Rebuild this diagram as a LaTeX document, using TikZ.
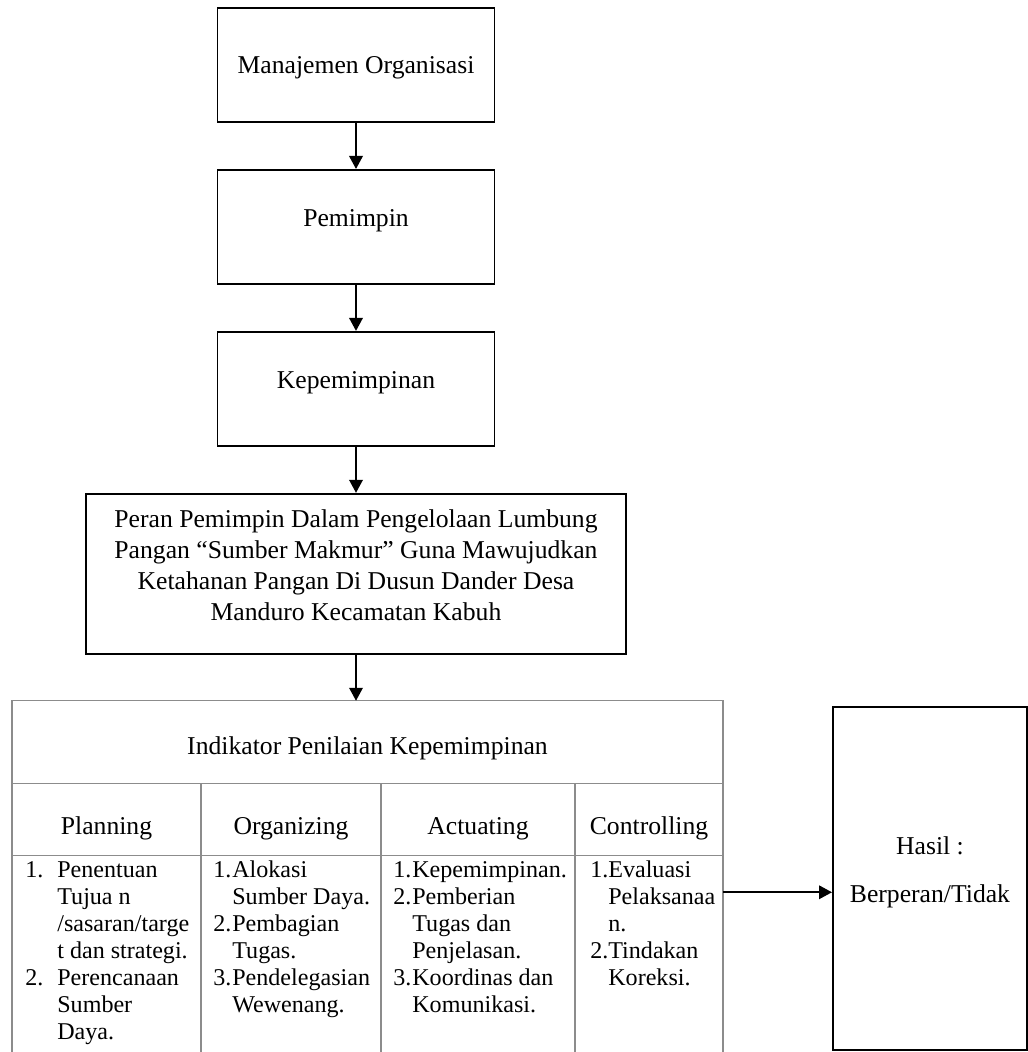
\documentclass[tikz,border=0pt]{standalone}
\usepackage{fontspec}
\setmainfont{Liberation Serif}
\usepackage{tikz}
\usetikzlibrary{arrows.meta, positioning}
\definecolor{gridGray}{HTML}{8C8C8C}

\begin{document}
\begin{tikzpicture}[
    node distance=0.92cm,
    block/.style={rectangle, draw, line width=1.1pt, minimum width=5.54cm, minimum height=2.28cm, align=center, font=\fontsize{14.6}{17.6}\selectfont},
    cell/.style={rectangle, draw=gridGray, line width=0.8pt, outer sep=0pt, inner sep=2pt, font=\fontsize{14.6}{17.6}\selectfont},
    colhead/.style={cell, minimum height=1.44cm, text height=0.69cm, text depth=0.11cm},
    items/.style={anchor=north west, inner sep=0pt, font=\fontsize{13.7}{15.4}\selectfont},
    arrow/.style={-{Triangle[length=0.26cm, width=0.27cm]}, line width=1.1pt},
]
    \useasboundingbox (0,0) rectangle (20.56,-21.04);

    \node[block, text height=0.45cm] (manajemen) at (7.12,-1.30) {Manajemen Organisasi};
    \node[block, below=of manajemen, text depth=0.35cm] (pemimpin) {Pemimpin};
    \node[block, below=of pemimpin, text depth=0.35cm] (kepemimpinan) {Kepemimpinan};
    \node[block, below=of kepemimpinan, minimum width=10.8cm, minimum height=3.2cm, text depth=0.35cm] (peran)
        {Peran Pemimpin Dalam Pengelolaan Lumbung\\Pangan ``Sumber Makmur'' Guna Mawujudkan\\Ketahanan Pangan Di Dusun Dander Desa\\Manduro Kecamatan Kabuh};

    % tabel indikator
    \node[cell, below=of peran, xshift=0.23cm, minimum width=14.22cm, minimum height=1.66cm, text height=0.58cm, text depth=0.11cm] (indikator) {Indikator Penilaian Kepemimpinan};
    \node[colhead, minimum width=3.78cm, anchor=north west] (planning) at (indikator.south west) {Planning};
    \node[colhead, minimum width=3.6cm, right=0pt of planning] (organizing) {Organizing};
    \node[colhead, minimum width=3.88cm, right=0pt of organizing] (actuating) {Actuating};
    \node[colhead, minimum width=2.96cm, right=0pt of actuating] (controlling) {Controlling};
    \foreach \c in {planning, organizing, actuating, controlling}
        \draw[draw=gridGray, line width=0.8pt] (\c.south west) -- ++(0,-4.3);
    \draw[draw=gridGray, line width=0.8pt] (controlling.south east) -- ++(0,-4.3);

    \node[items] (planlist) at ([xshift=0.26cm, yshift=-0.05cm]planning.south west)
        {\begin{tabular}{@{}p{0.64cm}@{}l@{}}
        1. & Penentuan\\ & Tujua n\\ & /sasaran/targe\\ & t dan strategi.\\
        2. & Perencanaan\\ & Sumber\\ & Daya.
        \end{tabular}};
    \node[items] (orglist) at ([xshift=0.24cm, yshift=-0.05cm]organizing.south west)
        {\begin{tabular}{@{}p{0.38cm}@{}l@{}}
        1. & Alokasi\\ & Sumber Daya.\\
        2. & Pembagian\\ & Tugas.\\
        3. & Pendelegasian\\ & Wewenang.
        \end{tabular}};
    \node[items] (actlist) at ([xshift=0.24cm, yshift=-0.05cm]actuating.south west)
        {\begin{tabular}{@{}p{0.38cm}@{}l@{}}
        1. & Kepemimpinan.\\
        2. & Pemberian\\ & Tugas dan\\ & Penjelasan.\\
        3. & Koordinas dan\\ & Komunikasi.
        \end{tabular}};
    \node[items] (ctrllist) at ([xshift=0.3cm, yshift=-0.05cm]controlling.south west)
        {\begin{tabular}{@{}p{0.36cm}@{}l@{}}
        1. & Evaluasi\\ & Pelaksanaa\\ & n.\\
        2. & Tindakan\\ & Koreksi.
        \end{tabular}};

    \node[block, anchor=north west, minimum width=3.88cm, minimum height=6.86cm, text depth=0.35cm, font=\fontsize{14.6}{27.3}\selectfont] (hasil)
        at ([xshift=2.18cm, yshift=-0.1cm]indikator.north east) {Hasil :\\Berperan/Tidak};
    \coordinate (keluar) at ([yshift=-0.73cm]controlling.south east);

    \draw[arrow] (manajemen) -- (pemimpin);
    \draw[arrow] (pemimpin) -- (kepemimpinan);
    \draw[arrow] (kepemimpinan) -- (peran);
    \draw[arrow] (peran) -- (peran |- indikator.north);
    \draw[arrow] (keluar) -- (keluar -| hasil.west);
\end{tikzpicture}
\end{document}
